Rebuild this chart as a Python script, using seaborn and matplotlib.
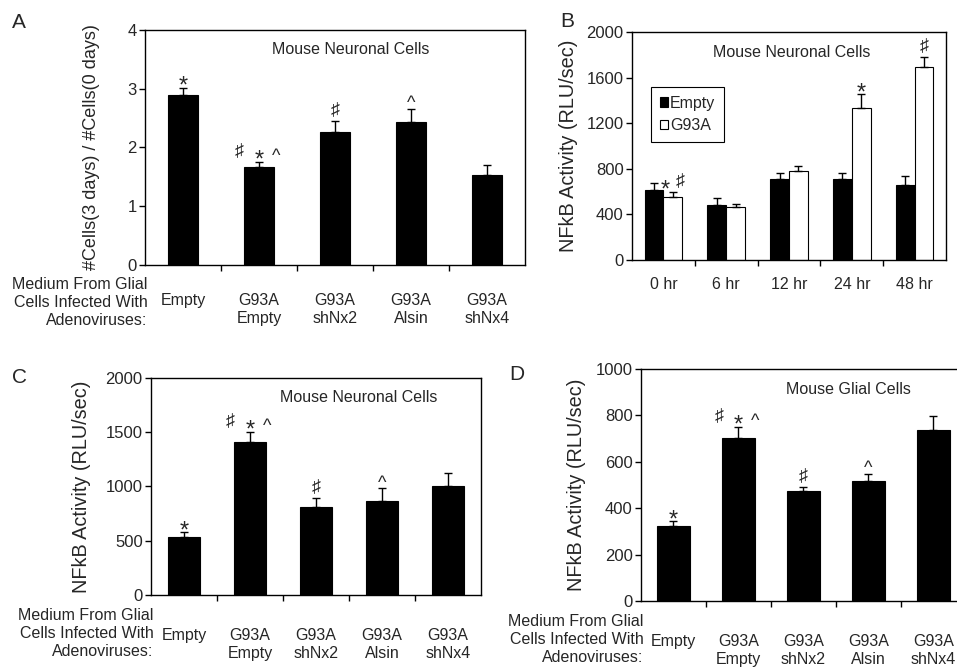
import numpy as np
import pandas as pd
import matplotlib
matplotlib.use("Agg")
import matplotlib.pyplot as plt
import seaborn as sns

# categories
glia_labels = ["Empty", "G93A\nEmpty", "G93A\nshNx2", "G93A\nAlsin", "G93A\nshNx4"]
time_labels = ["0 hr", "6 hr", "12 hr", "24 hr", "48 hr"]

# panel A: cell growth ratio
a_vals = [2.89, 1.67, 2.26, 2.43, 1.53]
a_err = [0.13, 0.09, 0.19, 0.23, 0.18]

# panel B: NFkB time course
b_empty = [615, 480, 714, 709, 656]
b_empty_err = [58, 62, 47, 58, 85]
b_g93a = [550, 463, 779, 1332, 1690]
b_g93a_err = [47, 29, 47, 120, 90]

# panel C: neuronal NFkB
c_vals = [532, 1406, 815, 865, 1009]
c_err = [46, 96, 83, 117, 111]

# panel D: glial NFkB
d_vals = [322, 704, 475, 517, 738]
d_err = [22, 47, 17, 30, 61]

# significance marks per bar
bar_marks = [["*"], ["♯", "*", "^"], ["♯"], ["^"], []]
b_marks = [["*", "♯"], [], [], ["*"], ["♯"]]

sns.set_style("ticks")
plt.rcParams["font.family"] = ["Liberation Sans", "DejaVu Sans"]
plt.rcParams["axes.edgecolor"] = "black"
plt.rcParams["axes.linewidth"] = 1.0

FS = 11.5
MEDIUM = "Medium From Glial\nCells Infected With\nAdenoviruses:"

# size and vertical nudge (points) for each symbol
SYM_STYLE = {"*": dict(size=17, dy=-3.5), "♯": dict(size=13, dy=4.0), "^": dict(size=13, dy=0.5)}
SPREAD = {1: [0], 2: [-5.5, 5.5], 3: [-14, 0, 12]}


def put_marks(ax, x, top, marks):
    offs = SPREAD.get(len(marks), [])
    for m, dx in zip(marks, offs):
        st = SYM_STYLE[m]
        ax.annotate(m, xy=(x, top), xytext=(dx, st["dy"]), textcoords="offset points",
                    ha="center", va="baseline", fontsize=st["size"])


def style_axes(ax, n, ymax, ystep, label_pad, ylabel, ylabel_x, ylabel_fs):
    ax.set_xlim(-0.5, n - 0.5)
    ax.set_ylim(0, ymax)
    ax.set_yticks(np.arange(0, ymax + ystep / 2, ystep))
    ax.set_xticks(np.arange(0.5, n - 1, 1), minor=True)
    ax.tick_params(axis="x", which="major", length=0, pad=label_pad, labelsize=FS)
    ax.tick_params(axis="x", which="minor", length=4, width=1, direction="out", color="black")
    ax.tick_params(axis="y", length=4, width=1, direction="out", labelsize=12, pad=2, color="black")
    for lab in ax.get_xticklabels():
        lab.set_linespacing(1.25)
    ax.set_xlabel("")
    ax.set_ylabel(ylabel, fontsize=ylabel_fs)
    ax.yaxis.set_label_coords(ylabel_x, 0.5)
    for sp in ax.spines.values():
        sp.set_visible(True)
        sp.set_color("black")


def single_panel(ax, vals, err, ymax, ystep, ylabel, ylabel_x, ylabel_fs, title, title_xy,
                 label_pad, width):
    sns.barplot(x=glia_labels, y=vals, color="black", edgecolor="black", linewidth=0.8,
                width=width, errorbar=None, ax=ax, saturation=1)
    xs = np.arange(len(vals))
    ax.errorbar(xs, vals, yerr=[np.zeros(len(err)), err], fmt="none", ecolor="black",
                elinewidth=1, capsize=3, capthick=1)
    for x, v, e, m in zip(xs, vals, err, bar_marks):
        put_marks(ax, x, v + e, m)
    style_axes(ax, len(vals), ymax, ystep, label_pad, ylabel, ylabel_x, ylabel_fs)
    ax.text(title_xy[0], title_xy[1], title, transform=ax.transAxes, ha="center",
            va="center", fontsize=FS)
    ax.annotate(MEDIUM, xy=(0, 0), xycoords="axes fraction", xytext=(2, -9),
                textcoords="offset points", ha="right", va="top", fontsize=FS,
                linespacing=1.25, multialignment="right")


fig = plt.figure(figsize=(9.57, 6.69), dpi=100)

ax_a = fig.add_axes([0.1515, 0.6039, 0.3971, 0.3513])
ax_b = fig.add_axes([0.6604, 0.6114, 0.3281, 0.3408])
ax_c = fig.add_axes([0.1578, 0.1106, 0.3448, 0.3244])
ax_d = fig.add_axes([0.6698, 0.1016, 0.3396, 0.3468])

single_panel(ax_a, a_vals, a_err, 4, 1, "#Cells(3 days) / #Cells(0 days)", -0.118, 13.0,
             "Mouse Neuronal Cells", (0.54, 0.915), 20.5, 0.4)
single_panel(ax_c, c_vals, c_err, 2000, 500, "NFkB Activity (RLU/sec)", -0.182, 14.3,
             "Mouse Neuronal Cells", (0.63, 0.908), 24, 0.49)
single_panel(ax_d, d_vals, d_err, 1000, 200, "NFkB Activity (RLU/sec)", -0.169, 14.3,
             "Mouse Glial Cells", (0.637, 0.91), 24, 0.5)

# panel B: grouped bars
df_b = pd.DataFrame({
    "time": time_labels * 2,
    "value": b_empty + b_g93a,
    "group": ["Empty"] * 5 + ["G93A"] * 5,
})
sns.barplot(data=df_b, x="time", y="value", hue="group",
            palette={"Empty": "black", "G93A": "white"}, edgecolor="black",
            linewidth=0.8, width=0.6, errorbar=None, saturation=1, ax=ax_b)
for cont, vals, errs in zip(ax_b.containers, [b_empty, b_g93a], [b_empty_err, b_g93a_err]):
    xs = [p.get_x() + p.get_width() / 2 for p in cont.patches]
    ax_b.errorbar(xs, vals, yerr=[np.zeros(len(errs)), errs], fmt="none", ecolor="black",
                  elinewidth=1, capsize=3, capthick=1)
g_cont = ax_b.containers[1]
for p, v, e, m in zip(g_cont.patches, b_g93a, b_g93a_err, b_marks):
    put_marks(ax_b, p.get_x() + p.get_width() / 2, v + e, m)
style_axes(ax_b, 5, 2000, 400, 12, "NFkB Activity (RLU/sec)", -0.172, 14.3)
ax_b.text(0.51, 0.912, "Mouse Neuronal Cells", transform=ax_b.transAxes, ha="center",
          va="center", fontsize=FS)
ax_b.legend(loc="upper left", bbox_to_anchor=(0.06, 0.759), fontsize=FS, frameon=True,
            fancybox=False, edgecolor="black", framealpha=1, handlelength=0.5,
            handleheight=0.5, handletextpad=0.15, borderpad=0.55, labelspacing=0.45,
            borderaxespad=0, title=None)
ax_b.get_legend().get_frame().set_linewidth(0.8)

# panel letters
for letter, x, y in [("A", 0.013, 0.958), ("B", 0.585, 0.959), ("C", 0.013, 0.4275), ("D", 0.532, 0.432)]:
    fig.text(x, y, letter, fontsize=15, va="baseline", ha="left")

fig.savefig("out.png", dpi=100)
